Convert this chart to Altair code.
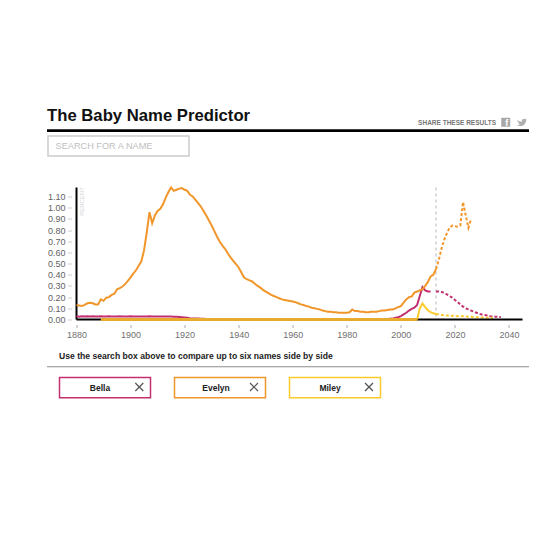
import altair as alt
import pandas as pd

evelyn_1880s = [.131,.125,.12,.13,.145,.15,.145,.135,.135,.18]
evelyn_1890s = [.167,.195,.20,.22,.23,.27,.28,.295,.316,.345]
evelyn_1900s = [.376,.41,.44,.48,.52,.62,.78,.96,.86,.93]
evelyn_1910s = [.97,.99,1.03,1.09,1.14,1.18,1.15,1.16,1.17,1.175]
evelyn_1920s = [1.16,1.15,1.115,1.10,1.07,1.04,1.01,.97,.93,.885]
evelyn_1930s = [.84,.79,.74,.695,.66,.63,.59,.555,.525,.495]
evelyn_1940s = [.465,.42,.375,.36,.35,.34,.32,.30,.285,.265]
evelyn_1950s = [.25,.235,.22,.21,.20,.19,.18,.175,.17,.165]
evelyn_1960s = [.16,.155,.145,.135,.13,.12,.115,.105,.10,.095]
evelyn_1970s = [.09,.08,.075,.07,.07,.065,.065,.06,.06,.06]
evelyn_1980s = [.06,.065,.09,.075,.075,.07,.07,.065,.065,.07]
evelyn_1990s = [.07,.07,.075,.08,.08,.085,.09,.09,.10,.11]
evelyn_2000s = [.12,.15,.18,.2,.205,.24,.25,.26,.27,.30]
evelyn_2010s = [.335,.385,.40,.45]
evelyn = (evelyn_1880s + evelyn_1890s + evelyn_1900s + evelyn_1910s + evelyn_1920s + evelyn_1930s
          + evelyn_1940s + evelyn_1950s + evelyn_1960s + evelyn_1970s + evelyn_1980s + evelyn_1990s
          + evelyn_2000s + evelyn_2010s)
evelyn_proj = [.45,.53,.63,.71,.77,.82,.84,.835,.83,.84,1.05,.93,.82,.90]

bella_early = [.029,.024,.029,.027,.029,.027,.029,.027,.027,.029,.027,.027,.029,.027,.027,.027,.029,.027,.027,.027,
               .029,.027,.027,.027,.027,.027,.027,.029,.027,.027,.027,.027,.027,.027,.027,.026,.025,.024,.022,.02,
               .018,.015,.012,.01,.009,.008,.007,.006,.005,.004,.004,.003,.003,.003]
bella_mid = [.002] * 60
bella_end = [.003,.004,.006,.008,.015,.02,.03,.045,.06,.08,.095,.105,.13,.21,.29,.26,.25,.25]
bella = bella_early + bella_mid + bella_end
bella_proj = [.25,.25,.245,.24,.225,.21,.195,.175,.155,.135,.115,.10,.09,.08,.07,.06,.05,.045,.04,.035,.03,.027,.025,.023,.022]

miley_flat = [0.0] * 118          # 1889-2006
miley_end = [0.0,.1,.143,.11,.083,.065,.055,.05]   # 2006-2013
miley_proj = [.05,.045,.04,.04,.035,.035,.033,.033,.03,.03,.03,.028,.025,.025,.022,.02,.02,.018,.017,.016,.015,.015]

rows = []
for name, vals, y0, kind in [
    ("Bella", bella, 1880, "solid"),
    ("Bella", bella_proj, 2013, "proj"),
    ("MileyFlat", miley_flat, 1889, "solid"),
    ("Miley", miley_end, 2006, "solid"),
    ("Miley", miley_proj, 2013, "proj"),
    ("Evelyn", evelyn, 1880, "solid"),
    ("Evelyn", evelyn_proj, 2013, "proj"),
]:
    for i, v in enumerate(vals):
        rows.append({"name": name, "year": y0 + i, "pct": v, "kind": kind})
df = pd.DataFrame(rows)

COL = {"Bella": "#c2306f", "Evelyn": "#f0962a", "Miley": "#fbcb2e", "MileyFlat": "#e8ab2e"}
WID = {"Bella": 2, "Evelyn": 2, "Miley": 2, "MileyFlat": 3}
FONT = "Liberation Sans"
W, H = 446, 132
OX, OY = 76.5, 187.5  # page position of the plot origin

x = alt.X("year:Q", scale=alt.Scale(domain=[1880, 2045], nice=False),
          axis=alt.Axis(values=list(range(1880, 2041, 20)), format="d", title=None, domain=False,
                        grid=False, offset=5, tickSize=3, tickColor="#aaaaaa", labelColor="#707070",
                        labelFont=FONT, labelFontSize=9, labelPadding=3, labelFlush=False, labelOverlap=False))
y = alt.Y("pct:Q", scale=alt.Scale(domain=[0, 1.18], nice=False),
          axis=alt.Axis(values=[i / 10 for i in range(12)], format=".2f", title=None, domain=False,
                        grid=False, offset=5, tickSize=4, tickColor="#cccccc", labelColor="#5f5f5f",
                        labelFont=FONT, labelFontSize=9, labelPadding=2.5, labelFlush=False, labelOverlap=False))

base = alt.Chart(df)
one = pd.DataFrame({"v": [0]})
layers = [alt.Chart(pd.DataFrame({"year": [2013]})).mark_rule(color="#b5b5b5", strokeWidth=1, strokeDash=[3, 3]).encode(x=x)]
for n in ["Bella", "Miley", "Evelyn"]:
    layers.append(base.transform_filter(f"datum.name=='{n}' && datum.kind=='proj'")
                  .mark_line(color=COL[n], strokeWidth=2, strokeDash=[3, 2], clip=False).encode(x=x, y=y))
layers.append(alt.Chart(one).mark_rule(color="black", strokeWidth=2).encode(x=alt.value(0), x2=alt.value(W), y=alt.value(H)))
layers.append(alt.Chart(one).mark_rule(color="black", strokeWidth=2).encode(x=alt.value(0), y=alt.value(0), y2=alt.value(H)))
for n in ["Bella", "Miley", "MileyFlat", "Evelyn"]:
    layers.append(base.transform_filter(f"datum.name=='{n}' && datum.kind=='solid'")
                  .mark_line(color=COL[n], strokeWidth=WID[n], clip=False).encode(x=x, y=y))

def px(v): return v - OX
def py(v): return v - OY

def text(t, xp, yp, **kw):
    return alt.Chart(pd.DataFrame({"t": [t]})).mark_text(font=FONT, **kw).encode(
        x=alt.value(px(xp)), y=alt.value(py(yp)), text="t:N")
def rule(x1, x2, y1, color, w):
    return alt.Chart(one).mark_rule(color=color, strokeWidth=w).encode(
        x=alt.value(px(x1)), x2=alt.value(px(x2)), y=alt.value(py(y1)))
def box(x1, x2, y1, y2, stroke, w, fill="white"):
    return alt.Chart(one).mark_rect(fill=fill, stroke=stroke, strokeWidth=w).encode(
        x=alt.value(px(x1)), x2=alt.value(px(x2)), y=alt.value(py(y1)), y2=alt.value(py(y2)))
def cross(cx, cy):
    r = 4
    return [alt.Chart(one).mark_rule(color="#555555", strokeWidth=1.2).encode(
                x=alt.value(px(cx - r)), x2=alt.value(px(cx + r)), y=alt.value(py(cy - r)), y2=alt.value(py(cy + r))),
            alt.Chart(one).mark_rule(color="#555555", strokeWidth=1.2).encode(
                x=alt.value(px(cx - r)), x2=alt.value(px(cx + r)), y=alt.value(py(cy + r)), y2=alt.value(py(cy - r)))]

BIRD = ("M-1,-.55 C-.7,-.2 -.4,-.05 -.05,-.05 C-.15,-.5 .3,-.85 .6,-.55 L.95,-.7 L.75,-.4 L1,-.5 L.8,-.25 "
        "C.8,.4 .2,.9 -.4,.8 C-.6,.8 -.85,.7 -1,.6 C-.75,.62 -.5,.55 -.35,.42 C-.6,.4 -.75,.25 -.8,.1 L-.6,.1 "
        "C-.85,0 -.95,-.2 -.95,-.35 L-.75,-.3 C-.95,-.4 -1.05,-.6 -1,-.55 Z")

deco = [
    text("The Baby Name Predictor", 47, 116, align="left", baseline="middle", fontSize=16.7, fontWeight="bold", color="#111111"),
    rule(47, 529, 130.7, "black", 2.8),
    text("SHARE THESE RESULTS", 496, 122.5, align="right", baseline="middle", fontSize=6.5, fontWeight="bold", color="#777777"),
    box(501.5, 510, 118, 126.5, "#a8a8a8", 0.5, fill="#a8a8a8"),
    text("f", 506.8, 123, align="center", baseline="middle", fontSize=9, fontWeight="bold", color="white"),
    alt.Chart(one).mark_point(shape=BIRD, filled=True, color="#b0b0b0", opacity=1).encode(
        x=alt.value(px(522)), y=alt.value(py(122)), size=alt.value(100)),
    box(48, 189, 136, 156, "#cccccc", 1.5),
    text("SEARCH FOR A NAME", 55.5, 146, align="left", baseline="middle", fontSize=9.2, color="#c0c0c0"),
    text("PERCENT", 82, 201.5, align="center", baseline="middle", fontSize=6, angle=270, color="#d2d2d2"),
    text("Use the search box above to compare up to six names side by side", 59, 355.5, align="left", baseline="middle", fontSize=8.6, fontWeight="bold", color="#222222"),
    rule(47, 529, 366.8, "#8c8c8c", 1.1),
]
chips = [("Bella", 59.5, 150.5, 100, 139.3), ("Evelyn", 174.5, 265.5, 216, 254), ("Miley", 289.5, 380.5, 330, 369)]
for n, a, b, tx, cx in chips:
    deco += [box(a, b, 377.5, 397.7, COL[n], 1.5),
             text(n, tx, 387.5, align="center", baseline="middle", fontSize=8.5, fontWeight="bold", color="#222222")]
    deco += cross(cx, 387)

chart = alt.layer(*layers, *deco).properties(
    width=W, height=H,
    padding={"left": OX - 8, "top": OY - 8, "right": 8, "bottom": 150},
    autosize=alt.AutoSizeParams(type="none"),
).configure_view(stroke=None)

chart.save("out.html", embed_options={"renderer": "svg", "actions": False})
